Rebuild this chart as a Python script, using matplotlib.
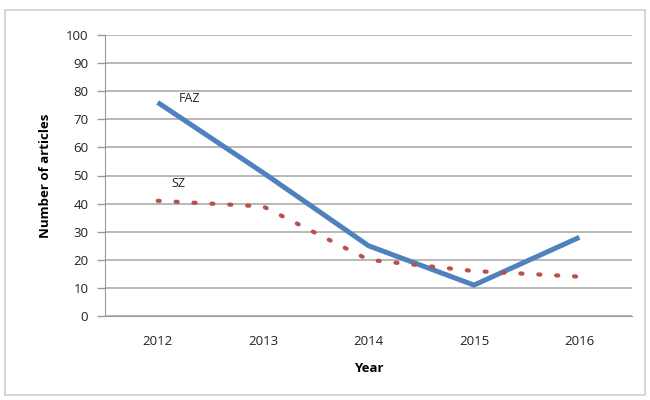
import matplotlib
matplotlib.use("Agg")
import matplotlib.pyplot as plt
from matplotlib.patches import Rectangle

# data
years = ["2012", "2013", "2014", "2015", "2016"]
faz = [76, 51, 25, 11, 28]
sz = [41, 39, 20, 16, 14]
y_ticks = list(range(0, 101, 10))

plt.rcParams['font.family'] = ['Open Sans', 'DejaVu Sans']

fig = plt.figure(figsize=(6.5, 4), dpi=100)
fig.patches.append(Rectangle((0.008, 0.012), 0.984, 0.963, transform=fig.transFigure,
                             fill=False, edgecolor='#d0d0d0', linewidth=1.2))
ax = fig.add_axes([0.1615, 0.21, 0.811, 0.7025])

x = list(range(len(years)))
ax.plot(x, faz, color='#4f81bd', linewidth=3.6, solid_capstyle='butt', zorder=3)
ax.plot(x, sz, color='#b9504c', linewidth=3.0, linestyle=(0, (0.5, 3.8)),
        dash_capstyle='round', zorder=3)

ax.text(0.2, 76, "FAZ", fontsize=9, color='#222222')
ax.text(0.13, 46, "SZ", fontsize=9, color='#222222')

ax.set_xlim(-0.5, 4.5)
ax.set_ylim(0, 100)
ax.set_xticks(x)
ax.set_xticklabels(years)
ax.set_yticks(y_ticks)
ax.tick_params(axis='x', length=0, pad=14, labelsize=9.5, colors='#222222')
ax.tick_params(axis='y', length=6, width=1, color='#999999', labelsize=9.5,
               labelcolor='#222222', pad=6)

ax.grid(axis='y', color='#b8b8b8', linewidth=1.4)
ax.set_axisbelow(True)
for side in ['top', 'right']:
    ax.spines[side].set_visible(False)
ax.spines['left'].set_color('#999999')
ax.spines['bottom'].set_color('#999999')

ax.set_xlabel("Year", fontsize=9.5, fontweight='bold', labelpad=10)
ax.set_ylabel("Number of articles", fontsize=9.5, fontweight='bold', labelpad=10)

plt.savefig("out.png", dpi=100)
